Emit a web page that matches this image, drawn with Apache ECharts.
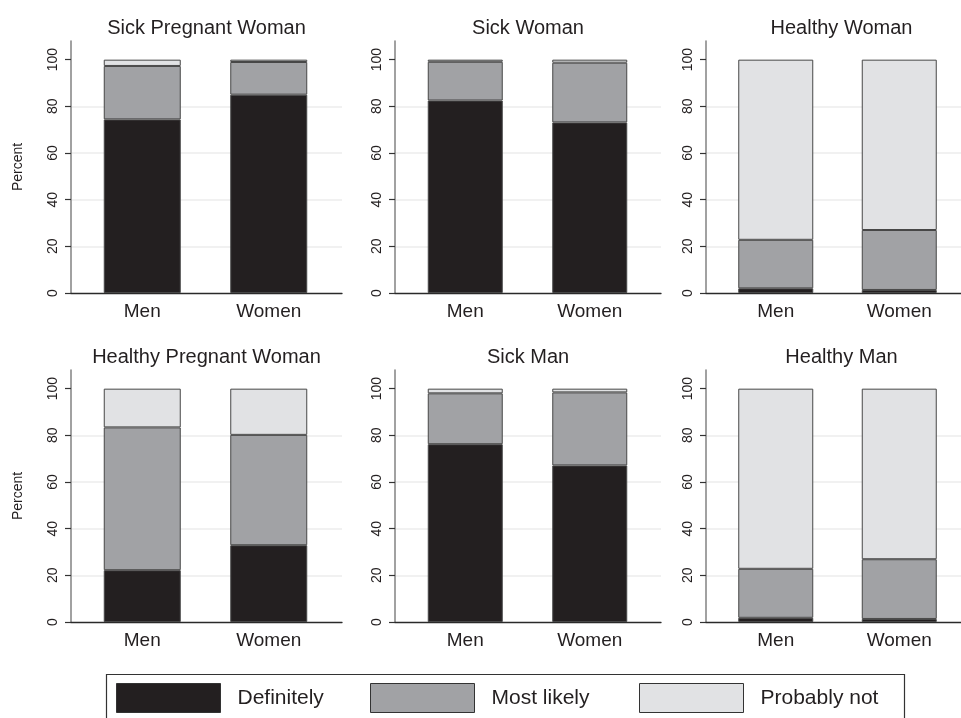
<!DOCTYPE html>
<html>
<head>
<meta charset="utf-8">
<script src="https://cdn.jsdelivr.net/npm/echarts@6/dist/echarts.min.js"></script>
<style>
  html, body { margin: 0; padding: 0; background: #fff; }
  #chart { width: 961px; height: 718px; }
</style>
</head>
<body>
<div id="chart"></div>
<script>
  // data (percent of respondents)
  var categories = ['Men', 'Women'];
  var panelTitles = ['Sick Pregnant Woman', 'Sick Woman', 'Healthy Woman',
                     'Healthy Pregnant Woman', 'Sick Man', 'Healthy Man'];
  var answerNames = ['Definitely', 'Most likely', 'Probably not'];
  var definitely  = [[74.4, 85.0], [82.5, 73.1], [2.0, 1.3], [22.2, 32.9], [76.2, 67.1], [1.8, 1.3]];
  var mostLikely  = [[22.9, 14.0], [16.6, 25.6], [20.8, 25.7], [61.2, 47.3], [21.8, 31.3], [21.0, 25.6]];
  var probablyNot = [[2.7, 1.0], [0.9, 1.3], [77.2, 73.0], [16.6, 19.8], [2.0, 1.6], [77.2, 73.1]];
  var yTicks = [0, 20, 40, 60, 80, 100];

  var colors = ['#231f20', '#a1a2a5', '#e1e2e4'];
  var font = 'Liberation Sans, Arial, Helvetica, sans-serif';
  var ink = '#231f20';

  // panel layout: outer frame (axes, grid lines) and inner band for the bars
  var colLeft = [71, 395, 706];
  var colWidth = [271, 266, 271];
  var barLeft = [79, 403, 714];
  var barSpan = [253, 249, 250];
  var barWidths = [77, 75, 75];
  var rowTop = [41, 370];
  var plotHeight = 252;
  var titleTop = [18, 347];

  var grids = [], xAxes = [], yAxes = [], titles = [], series = [];
  var stacks = [definitely, mostLikely, probablyNot];

  for (var i = 0; i < 6; i++) {
    var col = i % 3, row = Math.floor(i / 3);
    var frame = grids.length;
    // frame grid: axis lines, ticks, labels, light grid lines
    grids.push({ left: colLeft[col], top: rowTop[row], width: colWidth[col], height: plotHeight });
    xAxes.push({
      type: 'category', gridIndex: frame, data: categories,
      axisLine: { lineStyle: { color: '#2a2a2a', width: 1.3 } },
      axisTick: { show: false }, axisLabel: { show: false }, splitLine: { show: false }
    });
    yAxes.push({
      type: 'value', gridIndex: frame, min: 0, max: 108, interval: 20,
      name: col === 0 ? 'Percent' : '',
      nameLocation: 'middle', nameGap: 46,
      nameTextStyle: { fontFamily: font, fontSize: 14, color: ink },
      axisLine: { show: true, lineStyle: { color: '#8a8a8a', width: 1.6 } },
      axisTick: { show: true, length: 6, customValues: yTicks, lineStyle: { color: '#333', width: 1.2 } },
      axisLabel: { rotate: 90, customValues: yTicks, fontFamily: font, fontSize: 14, color: ink, margin: 11 },
      splitLine: { show: true, showMinLine: false, showMaxLine: false, lineStyle: { color: '#ececec', width: 1.5 } }
    });

    // bar grid: same vertical scale, narrower band so the bars sit where the original has them
    var inner = grids.length;
    grids.push({ left: barLeft[col], top: rowTop[row], width: barSpan[col], height: plotHeight });
    xAxes.push({
      type: 'category', gridIndex: inner, data: categories,
      axisLine: { show: false }, axisTick: { show: false },
      axisLabel: { fontFamily: font, fontSize: 19, color: ink, margin: 9 },
      splitLine: { show: false }
    });
    yAxes.push({
      type: 'value', gridIndex: inner, min: 0, max: 108, show: false,
      splitLine: { show: false }
    });

    titles.push({
      text: panelTitles[i],
      left: colLeft[col] + colWidth[col] / 2,
      top: titleTop[row],
      textAlign: 'center',
      padding: 0,
      textStyle: { fontFamily: font, fontSize: 20, fontWeight: 'normal', color: ink }
    });

    for (var s = 0; s < 3; s++) {
      series.push({
        name: answerNames[s], type: 'bar', stack: 'p' + i,
        xAxisIndex: inner, yAxisIndex: inner,
        barWidth: barWidths[col],
        data: stacks[s][i],
        itemStyle: { color: colors[s], borderColor: '#474747', borderWidth: 1 },
        emphasis: { disabled: true }
      });
    }
  }

  // one legend component per key so each sits where the original puts it
  var legendLeft = [116, 370, 639];
  var legends = answerNames.map(function (n, k) {
    return {
      data: [n], left: legendLeft[k], top: 683, padding: 0,
      orient: 'horizontal', icon: 'rect', selectedMode: false,
      itemWidth: 104, itemHeight: 29,
      itemStyle: { borderColor: '#333', borderWidth: 1 },
      textStyle: { fontFamily: font, fontSize: 21, color: ink, padding: [0, 0, 0, 12] }
    };
  });

  var option = {
    backgroundColor: '#fff',
    animation: false,
    title: titles,
    grid: grids,
    xAxis: xAxes,
    yAxis: yAxes,
    legend: legends,
    series: series,
    graphic: [{
      type: 'rect', left: 104, top: 672, silent: true,
      shape: { width: 798, height: 60 },
      style: { fill: 'none', stroke: '#333', lineWidth: 1.2 }
    }]
  };

  var myChart = echarts.init(document.getElementById('chart'));
  myChart.setOption(option);
</script>
</body>
</html>
